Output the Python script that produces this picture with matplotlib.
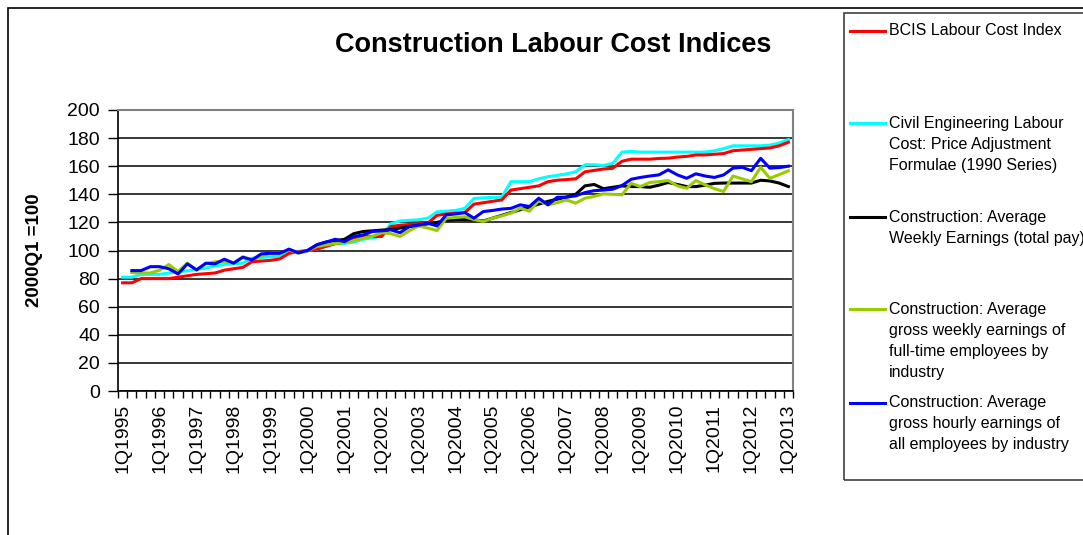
import matplotlib
matplotlib.use("Agg")
import matplotlib.pyplot as plt
from matplotlib.lines import Line2D
from matplotlib.patches import Rectangle
import numpy as np

plt.rcParams['font.family'] = ['Liberation Sans', 'DejaVu Sans']

# Quarters 1Q1995 .. 1Q2013
quarters = [f"{q}Q{y}" for y in range(1995, 2014) for q in range(1, 5)][:73]
tick_labels = [f"1Q{y}" for y in range(1995, 2014)]

bcis = [77, 77, 80, 80, 80, 80, 81, 82, 83, 83.5, 84, 86, 87, 88, 92, 92.5, 93, 94, 98, 99,
        100, 101, 103, 105, 106, 109, 110, 110, 110, 117, 118, 118.5, 119, 119.5, 125, 126, 126.5, 127, 133, 134,
        135, 136, 143, 144, 145, 146, 149, 150, 150.5, 151, 156, 157, 158, 158.5, 163.5, 165, 165, 165, 165.5, 165.7,
        166.5, 167, 168, 168, 168.5, 169, 171, 171.5, 172, 172.5, 173, 174.5, 177]

civil = [81, 81, 83, 83, 83, 84, 85, 85.5, 86.5, 87.5, 89, 90, 90.5, 91, 94.5, 95, 95.5, 96, 99, 99.5,
         100, 101, 103, 104.7, 105, 106, 108, 109, 110, 119, 121, 121.5, 121.8, 123, 127.5, 128, 128.5, 130, 137, 137.5,
         137.8, 138, 149, 149, 149, 151, 152.5, 153.5, 154.5, 156, 161, 161, 160.5, 162, 170, 170.5, 170, 170, 170, 170,
         170, 170, 170, 170, 171, 172.5, 174.5, 174.5, 174.5, 174.5, 175, 176.5, 179]

awe = [None] * 20 + [100, 104, 106, 107, 108, 112, 113.5, 114, 114.5, 115, 116, 117, 118, 119, 120, 121.5, 122, 122, 121.8, 121,
       123, 125, 127, 129, 131, 133, 135, 136.5, 138, 140, 146, 147, 144, 145, 146, 145.5, 145.5, 145, 146.5, 148.4,
       147, 145.5, 145.5, 146.5, 147.8, 148, 148, 148, 148, 150, 149.5, 148, 145.5]

weekly_ft = [None, 84.3, 84, 84, 86, 90, 85, 91, 86, 90.5, 92, 92, 91, 95.5, 93.5, 96, 98, 98, 100.4, 98,
             100, 102.8, 104, 105, 105.6, 107, 108.7, 110, 112.7, 112, 110, 114, 117.5, 116, 114.2, 123, 123.5, 124, 122, 120.6,
             123, 124.6, 126.6, 130, 128, 135.5, 132.5, 134, 136, 133.7, 137.2, 138.5, 140.3, 140, 139.6, 147.8, 145.5, 148.4, 149, 149.8,
             146, 144.3, 149.8, 146.7, 144, 142, 153, 151, 149, 159.2, 151.4, 154, 156.7]

hourly_all = [None, 85.7, 85.7, 88.5, 88.5, 87, 83.3, 90.5, 86.2, 91, 90.5, 93.8, 91, 95.2, 93.3, 97.6, 98, 98, 101, 98.3,
              100, 104, 106, 108, 106.3, 110, 111, 113.5, 114, 114.7, 112.7, 117, 118, 119.4, 117.5, 125.4, 126, 127, 123, 127.7,
              128.5, 129.5, 130, 132.5, 131.3, 137.2, 132.5, 137.9, 138, 138.9, 141.2, 142.6, 143, 143.6, 146.2, 150.7, 152, 153, 153.8, 157.4,
              153.8, 151.4, 154.6, 153, 152, 153.8, 158.6, 159.2, 156.8, 165.6, 158.6, 159, 160]

series_names = [
    "BCIS Labour Cost Index",
    "Civil Engineering Labour\nCost: Price Adjustment\nFormulae (1990 Series)",
    "Construction: Average\nWeekly Earnings (total pay)",
    "Construction: Average\ngross weekly earnings of\nfull-time employees by\nindustry",
    "Construction: Average\ngross hourly earnings of\nall employees by industry",
]
series_values = [bcis, civil, awe, weekly_ft, hourly_all]
series_colors = ["#ff0000", "#00ffff", "#000000", "#99cc00", "#0000ff"]
z_orders = [3, 2, 4, 5, 6]

W, H = 1083, 535
fig = plt.figure(figsize=(W / 100, H / 100), dpi=100)
ax = fig.add_axes([118 / W, 1 - 391 / H, (793 - 118) / W, (391 - 110) / H])

x = np.arange(len(quarters))
for vals, col, z in zip(series_values, series_colors, z_orders):
    y = np.array([np.nan if v is None else v for v in vals], dtype=float)
    ax.plot(x, y, color=col, lw=2.2, zorder=z, solid_joinstyle='round')

ax.set_xlim(-0.5, len(quarters) - 0.5)
ax.set_ylim(0, 200)
ax.set_yticks(np.arange(0, 201, 20))
ax.yaxis.grid(True, color='black', lw=1.1)
ax.set_axisbelow(True)
ax.tick_params(axis='y', direction='out', length=7, width=1, pad=6, labelsize=14)

ax.set_xticks(np.arange(0, len(quarters), 4))
ax.set_xticklabels(tick_labels, rotation=90, fontsize=14)
ax.set_xticks(np.arange(-0.5, len(quarters), 1), minor=True)
ax.tick_params(axis='x', which='major', length=0, pad=9)
ax.tick_params(axis='x', which='minor', direction='out', length=5, width=1)

for s in ['top', 'right']:
    ax.spines[s].set_color('#808080')
    ax.spines[s].set_linewidth(1.5)
for s in ['left', 'bottom']:
    ax.spines[s].set_color('black')
    ax.spines[s].set_linewidth(1.2)

ax.set_ylabel("2000Q1 =100", fontsize=13.5, fontweight='bold')
ax.yaxis.set_label_coords(-(118 - 43) / (793 - 118), 0.5)

fig.text(553 / W, 1 - 45 / H, "Construction Labour Cost Indices", fontsize=19.5,
         fontweight='bold', ha='center', va='center')

# outer chart border
fig.add_artist(Rectangle((8 / W, -0.1), 1.2, 1.1 - 8 / H, transform=fig.transFigure,
                         fill=False, edgecolor='black', lw=1.2, clip_on=False))

# legend box (manual, to align handles with first text line)
fig.add_artist(Rectangle((844 / W, 1 - 480 / H), 0.5, (480 - 13) / H, transform=fig.transFigure,
                         fill=False, edgecolor='#404040', lw=1.2, clip_on=False))
entry_y = [30.7, 123.3, 217.3, 309.3, 402.7]
for name, col, yy in zip(series_names, series_colors, entry_y):
    fig.add_artist(Line2D([850 / W, 885 / W], [1 - yy / H, 1 - yy / H], color=col, lw=2.2,
                          transform=fig.transFigure))
    fig.text(889 / W, 1 - (yy - 7.5) / H, name, fontsize=11.5, ha='left', va='top',
             linespacing=1.5)

fig.savefig("out.png", dpi=100)
